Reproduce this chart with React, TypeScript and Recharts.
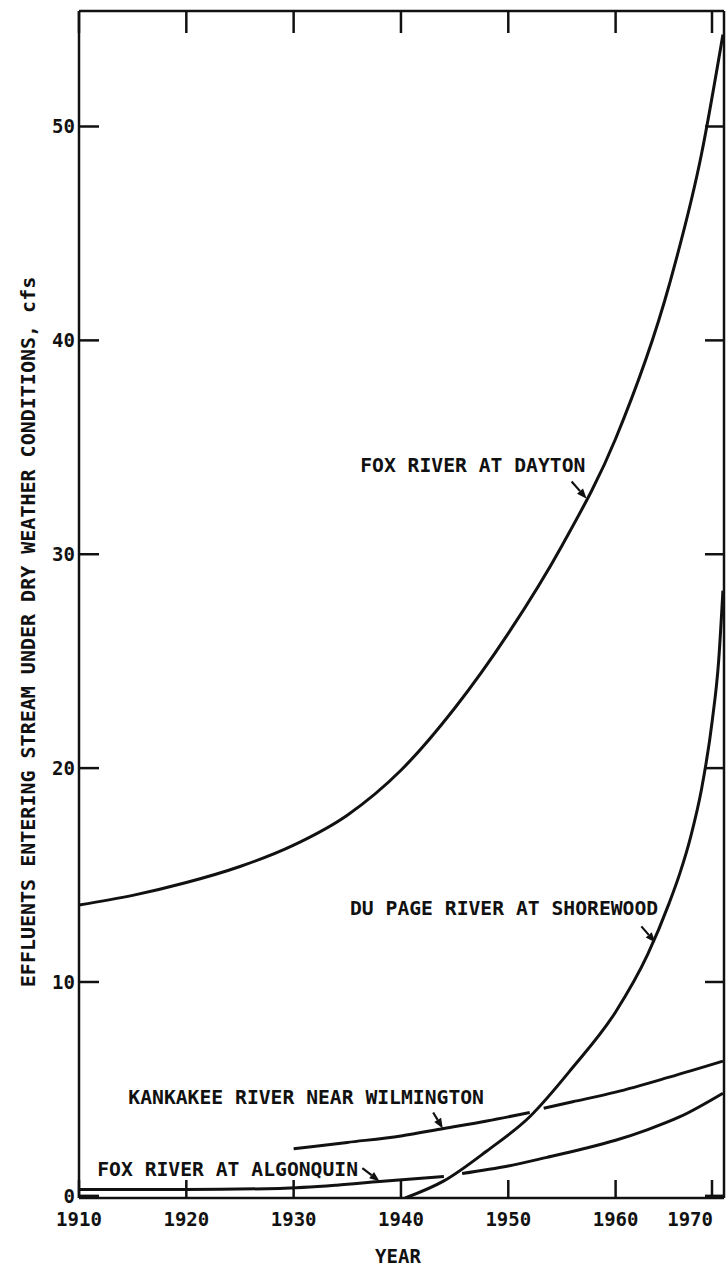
import { LineChart, Line, XAxis, YAxis, ReferenceLine, ReferenceDot } from 'recharts';

const FONT = '"DejaVu Sans Mono", monospace';
const INK = '#111';

const yearTicks = [1910, 1920, 1930, 1940, 1950, 1960, 1970];
const valueTicks = [0, 10, 20, 30, 40, 50];

// Fox River at Dayton
const daytonYears = [1910, 1915, 1920, 1925, 1930, 1935, 1940, 1945, 1950, 1955, 1960, 1965, 1968, 1970];
const daytonValues = [13.6, 14.05, 14.65, 15.4, 16.4, 17.8, 19.9, 22.8, 26.3, 30.4, 35.4, 42.6, 48.7, 54.3];

// Du Page River at Shorewood
const dupageYears = [1940.4, 1944, 1948, 1952, 1956, 1960, 1963, 1965, 1966, 1967, 1968, 1969, 1969.6, 1970];
const dupageValues = [-0.1, 0.7, 2.1, 3.7, 6.0, 8.6, 11.3, 13.7, 15.1, 16.8, 19.0, 22.2, 25.0, 28.3];

// Kankakee River near Wilmington (break where Du Page crosses)
const kankakeeYears = [1930, 1935, 1940, 1944, 1948, 1952, 1952.6, 1953.3, 1956, 1960, 1965, 1970];
const kankakeeValues = [2.2, 2.5, 2.8, 3.15, 3.5, 3.9, null, 4.1, 4.4, 4.85, 5.55, 6.3];

// Fox River at Algonquin (break where Du Page crosses)
const algonquinYears = [1910, 1920, 1928.7, 1934, 1938, 1944, 1944.8, 1945.7, 1950, 1953.6, 1957, 1960, 1963, 1966, 1970];
const algonquinValues = [0.3, 0.3, 0.35, 0.5, 0.67, 0.9, null, 1.05, 1.4, 1.8, 2.2, 2.6, 3.1, 3.7, 4.8];

const toPoints = (years: number[], values: (number | null)[]) =>
  years.map((year, i) => ({ year, value: values[i] }));

const series = [
  { name: 'FOX RIVER AT DAYTON', data: toPoints(daytonYears, daytonValues) },
  { name: 'DU PAGE RIVER AT SHOREWOOD', data: toPoints(dupageYears, dupageValues) },
  { name: 'KANKAKEE RIVER NEAR WILMINGTON', data: toPoints(kankakeeYears, kankakeeValues) },
  { name: 'FOX RIVER AT ALGONQUIN', data: toPoints(algonquinYears, algonquinValues) },
];

// callouts: text anchor (left, middle) and arrow in data units
const callouts = [
  { text: 'FOX RIVER AT DAYTON', at: [1936.2, 34.15], arrow: [[1955.9, 33.4], [1957.3, 32.6]] },
  { text: 'DU PAGE RIVER AT SHOREWOOD', at: [1935.25, 13.45], arrow: [[1962.4, 12.6], [1963.7, 11.85]] },
  { text: 'KANKAKEE RIVER NEAR WILMINGTON', at: [1914.6, 4.6], arrow: [[1943.0, 3.9], [1943.9, 3.15]] },
  { text: 'FOX RIVER AT ALGONQUIN', at: [1911.7, 1.25], arrow: [[1936.4, 1.3], [1938.0, 0.68]] },
];

const X_DOMAIN = [1910, 1970.1];
const Y_DOMAIN = [-0.1, 55.4];
const PLOT = { left: 79, right: 724, top: 11, bottom: 1198 };

function XTick({ x, payload }: any) {
  const last = payload.value === 1970;
  return (
    <g>
      <line x1={x} x2={x} y1={PLOT.bottom} y2={PLOT.bottom - 18} stroke={INK} strokeWidth={2.5} />
      <line x1={x} x2={x} y1={PLOT.top} y2={PLOT.top + 22} stroke={INK} strokeWidth={2.5} />
      <text
        x={last ? x + 1 : x}
        y={PLOT.bottom + 21}
        textAnchor={last ? 'end' : 'middle'}
        dominantBaseline="central"
        fontFamily={FONT}
        fontWeight="bold"
        fontSize={19}
        fill={INK}
      >
        {payload.value}
      </text>
    </g>
  );
}

function YTick({ y, payload }: any) {
  return (
    <g>
      <line x1={PLOT.left} x2={PLOT.left + 20} y1={y} y2={y} stroke={INK} strokeWidth={2.5} />
      <line x1={PLOT.right - 19} x2={PLOT.right} y1={y} y2={y} stroke={INK} strokeWidth={2.5} />
      <text
        x={PLOT.left - 4}
        y={y}
        textAnchor="end"
        dominantBaseline="central"
        fontFamily={FONT}
        fontWeight="bold"
        fontSize={19}
        fill={INK}
      >
        {payload.value}
      </text>
    </g>
  );
}

function Arrow(props: any) {
  const { x1, y1, x2, y2 } = props;
  const ang = Math.atan2(y2 - y1, x2 - x1);
  const len = 10;
  const half = 4;
  const bx = x2 - len * Math.cos(ang);
  const by = y2 - len * Math.sin(ang);
  const px = -Math.sin(ang) * half;
  const py = Math.cos(ang) * half;
  return (
    <g>
      <line x1={x1} y1={y1} x2={bx} y2={by} stroke={INK} strokeWidth={2.2} />
      <polygon points={`${x2},${y2} ${bx + px},${by + py} ${bx - px},${by - py}`} fill={INK} />
    </g>
  );
}

const xAxisTitle = () => (
  <text x={398} y={1256} textAnchor="middle" dominantBaseline="central" fontFamily={FONT} fontWeight="bold" fontSize={19} fill={INK}>
    YEAR
  </text>
);

const yAxisTitle = () => (
  <text
    x={28}
    y={632}
    transform="rotate(-90 28 632)"
    textAnchor="middle"
    dominantBaseline="central"
    fontFamily={FONT}
    fontWeight="bold"
    fontSize={20}
    fill={INK}
  >
    EFFLUENTS ENTERING STREAM UNDER DRY WEATHER CONDITIONS, cfs
  </text>
);

export default function App() {
  return (
    <div style={{ position: 'absolute', left: 0, top: 0, background: '#fff' }}>
      <LineChart width={728} height={1271} margin={{ top: 11, right: 4, bottom: 43, left: 19 }}>
        <XAxis
          type="number"
          dataKey="year"
          domain={X_DOMAIN}
          ticks={yearTicks}
          allowDataOverflow
          height={30}
          axisLine={{ stroke: INK, strokeWidth: 2.5 }}
          tickLine={false}
          tick={<XTick />}
          label={xAxisTitle}
        />
        <YAxis
          type="number"
          domain={Y_DOMAIN}
          ticks={valueTicks}
          allowDataOverflow
          width={60}
          axisLine={{ stroke: INK, strokeWidth: 2.5 }}
          tickLine={false}
          tick={<YTick />}
          label={yAxisTitle}
        />
        <ReferenceLine y={Y_DOMAIN[1]} stroke={INK} strokeWidth={2.5} ifOverflow="visible" />
        <ReferenceLine x={X_DOMAIN[1]} stroke={INK} strokeWidth={2.5} ifOverflow="visible" />
        {series.map((s) => (
          <Line
            key={s.name}
            name={s.name}
            data={s.data}
            dataKey="value"
            type="monotone"
            stroke={INK}
            strokeWidth={3}
            dot={false}
            activeDot={false}
            isAnimationActive={false}
          />
        ))}
        {callouts.map((c) => (
          <ReferenceLine
            key={`arrow-${c.text}`}
            segment={[
              { x: c.arrow[0][0], y: c.arrow[0][1] },
              { x: c.arrow[1][0], y: c.arrow[1][1] },
            ]}
            ifOverflow="visible"
            shape={<Arrow />}
          />
        ))}
        {callouts.map((c) => (
          <ReferenceDot
            key={`label-${c.text}`}
            x={c.at[0]}
            y={c.at[1]}
            r={0}
            ifOverflow="visible"
            shape={(p: any) => (
              <text
                x={p.cx}
                y={p.cy}
                dominantBaseline="central"
                fontFamily={FONT}
                fontWeight="bold"
                fontSize={19.7}
                fill={INK}
              >
                {c.text}
              </text>
            )}
          />
        ))}
      </LineChart>
    </div>
  );
}
